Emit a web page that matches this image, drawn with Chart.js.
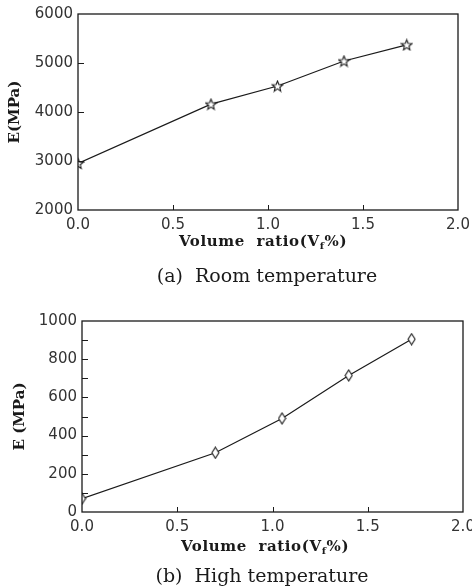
<!DOCTYPE html>
<html>
<head>
<meta charset="utf-8">
<script src="https://cdn.jsdelivr.net/npm/chart.js@4.4.1/dist/chart.umd.min.js"></script>
<style>
  body { margin: 0; background: #fff; }
  .box { width: 472px; height: 294px; }
</style>
</head>
<body>
<div class="box"><canvas id="chartA" width="472" height="294"></canvas></div>
<div class="box"><canvas id="chartB" width="472" height="294"></canvas></div>
<script>
// Données
const volumeRatio = [0.0, 0.70, 1.05, 1.40, 1.73];
const modulusRoom = [2950, 4160, 4530, 5040, 5370];
const modulusHigh = [70, 310, 490, 715, 905];

const xTickValues = [0.0, 0.5, 1.0, 1.5, 2.0];
const yTicksRoom = [2000, 3000, 4000, 5000, 6000];
const yTicksHigh = [0, 100, 200, 300, 400, 500, 600, 700, 800, 900, 1000];

const tickFont = { family: 'DejaVu Sans', size: 15 };
const ink = '#1a1a1a';

// Marqueurs : étoile creuse et losange allongé
function makeStar() {
    const c = document.createElement('canvas');
    c.width = 13; c.height = 13;
    const g = c.getContext('2d');
    g.beginPath();
    for (let i = 0; i < 10; i++) {
        const r = i % 2 === 0 ? 5.5 : 2.4;
        const a = -Math.PI / 2 + i * Math.PI / 5;
        const px = 6.5 + r * Math.cos(a), py = 7 + r * Math.sin(a);
        i === 0 ? g.moveTo(px, py) : g.lineTo(px, py);
    }
    g.closePath();
    g.fillStyle = '#fff'; g.fill();
    g.strokeStyle = ink; g.lineWidth = 1.1; g.stroke();
    return c;
}

function makeDiamond() {
    const c = document.createElement('canvas');
    c.width = 9; c.height = 13;
    const g = c.getContext('2d');
    g.beginPath();
    g.moveTo(4.5, 1); g.lineTo(8, 6.5); g.lineTo(4.5, 12); g.lineTo(1, 6.5);
    g.closePath();
    g.fillStyle = '#fff'; g.fill();
    g.strokeStyle = ink; g.lineWidth = 1.1; g.stroke();
    return c;
}

// Cadre, graduations internes, titre de l'axe x et légende
const framePlugin = {
    id: 'framePlugin',
    afterDraw(chart, args, opts) {
        const { ctx, chartArea: a, scales: { x, y } } = chart;
        ctx.save();
        ctx.strokeStyle = ink;
        ctx.lineWidth = 1.3;
        ctx.strokeRect(a.left, a.top, a.right - a.left, a.bottom - a.top);

        ctx.beginPath();
        xTickValues.slice(1, -1).forEach(v => {
            const px = Math.round(x.getPixelForValue(v)) + 0.5;
            ctx.moveTo(px, a.bottom);
            ctx.lineTo(px, a.bottom - 5);
        });
        opts.yTicks.slice(1, -1).forEach(v => {
            const py = Math.round(y.getPixelForValue(v)) + 0.5;
            ctx.moveTo(a.left, py);
            ctx.lineTo(a.left + 6, py);
        });
        ctx.lineWidth = 1;
        ctx.stroke();

        // Titre x avec indice f
        const main = 'bold 15px "DejaVu Serif"';
        const sub = 'bold 10px "DejaVu Serif"';
        const p1 = 'Volume  ratio(V', p2 = 'f', p3 = '%)';
        ctx.fillStyle = ink;
        ctx.textBaseline = 'middle';
        ctx.letterSpacing = '0.6px';
        ctx.font = main;
        const w1 = ctx.measureText(p1).width, w3 = ctx.measureText(p3).width;
        ctx.font = sub;
        const w2 = ctx.measureText(p2).width;
        let tx = opts.titleX - (w1 + w2 + w3) / 2;
        ctx.font = main;
        ctx.textAlign = 'left';
        ctx.fillText(p1, tx, opts.titleY);
        ctx.font = sub;
        ctx.fillText(p2, tx + w1, opts.titleY + 4);
        ctx.font = main;
        ctx.fillText(p3, tx + w1 + w2, opts.titleY);

        // Légende de la figure
        ctx.letterSpacing = '0px';
        ctx.font = '19px "DejaVu Serif"';
        ctx.textAlign = 'center';
        ctx.fillText(opts.caption, opts.captionX, opts.captionY);
        ctx.restore();
    }
};

function buildChart(id, values, marker, yMin, yMax, yStep, yTitle, yTitlePad, yTicks, axisW, pad, xAxisH, plug) {
    return new Chart(document.getElementById(id), {
        type: 'line',
        data: {
            datasets: [{
                data: volumeRatio.map((v, i) => ({ x: v, y: values[i] })),
                borderColor: ink,
                borderWidth: 1.2,
                tension: 0,
                pointStyle: marker,
                pointRadius: 5,
                fill: false
            }]
        },
        options: {
            responsive: false,
            animation: false,
            layout: { padding: pad },
            plugins: {
                legend: { display: false },
                tooltip: { enabled: false },
                framePlugin: Object.assign({ yTicks: yTicks }, plug)
            },
            scales: {
                x: {
                    type: 'linear',
                    min: 0, max: 2,
                    grid: { display: false, drawTicks: false },
                    border: { display: false },
                    afterFit: s => { s.height = xAxisH; s.paddingLeft = 0; s.paddingRight = 0; },
                    ticks: {
                        stepSize: 0.5,
                        padding: 6,
                        color: '#333',
                        font: tickFont,
                        callback: v => v.toFixed(1)
                    }
                },
                y: {
                    min: yMin, max: yMax,
                    grid: { display: false, drawTicks: false },
                    border: { display: false },
                    afterFit: s => { s.width = axisW; },
                    title: {
                        display: true,
                        text: yTitle,
                        color: ink,
                        font: { family: 'DejaVu Serif', size: 15, weight: 'bold' },
                        padding: { top: yTitlePad, bottom: 0 }
                    },
                    ticks: {
                        stepSize: yStep,
                        padding: 5,
                        color: '#333',
                        font: tickFont,
                        callback: v => String(v)
                    }
                }
            }
        },
        plugins: [framePlugin]
    });
}

buildChart('chartA', modulusRoom, makeStar(), 2000, 6000, 1000, 'E(MPa)', 6, yTicksRoom,
    78, { top: 13, right: 14, bottom: 36, left: 0 }, 48,
    { titleX: 263, titleY: 242, caption: '(a)  Room temperature', captionX: 267, captionY: 277 });

buildChart('chartB', modulusHigh, makeDiamond(), 0, 1000, 200, 'E (MPa)', 11, yTicksHigh,
    82, { top: 27, right: 9, bottom: 32, left: 0 }, 44,
    { titleX: 265, titleY: 253, caption: '(b)  High temperature', captionX: 262, captionY: 283 });
</script>
</body>
</html>
